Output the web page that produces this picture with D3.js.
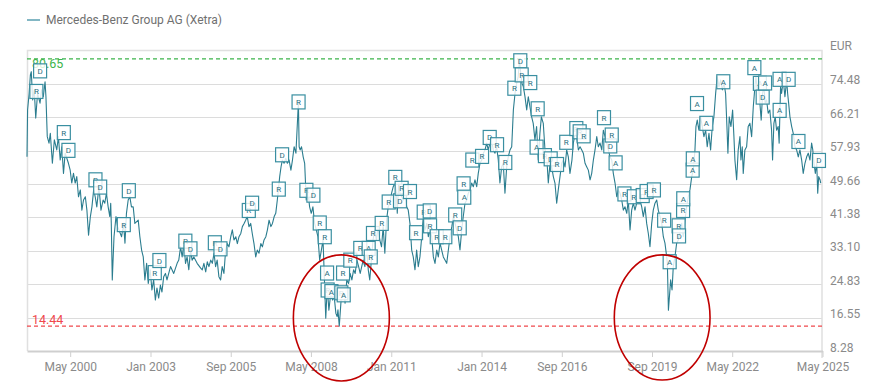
<!DOCTYPE html>
<html><head><meta charset="utf-8">
<script src="https://cdn.jsdelivr.net/npm/d3@7"></script>
<style>
body{margin:0;background:#fff;}
svg{display:block;font-family:Roboto,"Helvetica Neue",Arial,sans-serif;}
</style></head>
<body><svg id="chart" width="887" height="387"></svg>
<script>
const seriesName = "Mercedes-Benz Group AG (Xetra)";
const currency = "EUR";
const yTicks = [8.28, 16.55, 24.83, 33.10, 41.38, 49.66, 57.93, 66.21, 74.48];
const xTickDates = ["2000-05-01","2003-01-01","2005-09-01","2008-05-01","2011-01-01","2014-01-01","2016-09-01","2019-09-01","2022-05-01","2025-05-01"];
const refHigh = 80.65;
const refLow = 14.44;
const highlightRegions = [
  {from:"2007-10-01", to:"2010-12-09", low:0.85, high:32.1},
  {from:"2018-05-31", to:"2021-08-05", low:1.1, high:32.1}
];
const priceSeries = [
["1998-11-24",56.4],["1998-12-01",68.0],["1998-12-20",72.1],["1999-01-04",76.7],["1999-01-15",77.5],["1999-02-01",70.5],["1999-02-20",73.0],["1999-03-10",66.0],["1999-04-01",72.1],["1999-05-01",69.7],["1999-05-20",73.0],["1999-06-10",71.3],["1999-07-01",75.0],["1999-07-12",71.3],["1999-07-28",61.4],["1999-08-18",59.8],["1999-09-03",62.2],["1999-09-28",54.8],["1999-10-22",60.6],["1999-11-20",58.1],["1999-12-10",61.4],
["2000-01-01",55.6],["2000-01-20",58.9],["2000-02-10",52.3],["2000-03-01",57.3],["2000-04-10",54.8],["2000-05-01",53.1],["2000-05-20",49.9],["2000-06-10",52.3],["2000-07-01",49.9],["2000-07-20",51.5],["2000-08-10",46.5],["2000-09-01",48.2],["2000-09-20",43.2],["2000-10-10",45.7],["2000-11-01",46.5],["2000-11-20",43.2],["2000-12-10",37.0],
["2001-01-01",41.6],["2001-01-20",44.0],["2001-02-10",48.2],["2001-03-01",46.5],["2001-03-20",44.0],["2001-04-15",49.0],["2001-05-10",43.2],["2001-06-05",45.7],["2001-06-25",44.9],["2001-07-15",47.4],["2001-08-05",44.0],["2001-08-25",41.6],["2001-09-05",44.9],["2001-09-12",39.9],["2001-09-24",25.9],["2001-10-15",36.6],["2001-11-08",41.6],["2001-11-28",39.1],
["2002-01-15",36.6],["2002-02-08",39.9],["2002-02-25",35.0],["2002-03-15",42.4],["2002-04-05",45.7],["2002-04-25",46.5],["2002-05-15",44.0],["2002-06-05",44.0],["2002-06-25",39.9],["2002-08-05",40.7],["2002-08-25",36.6],["2002-09-15",33.3],["2002-10-05",31.6],["2002-10-25",25.9],["2002-11-15",30.0],["2002-12-05",25.0],["2002-12-28",28.4],
["2003-01-18",23.4],["2003-02-08",25.9],["2003-03-01",20.9],["2003-03-20",23.9],["2003-04-10",21.4],["2003-05-01",24.6],["2003-05-20",22.9],["2003-06-10",26.7],["2003-07-01",27.5],["2003-07-20",25.9],["2003-09-01",29.2],["2003-10-10",27.5],["2003-11-20",30.0],["2003-12-10",30.8],
["2004-01-01",34.1],["2004-01-20",31.6],["2004-02-10",34.9],["2004-03-01",30.0],["2004-03-20",31.6],["2004-04-10",28.4],["2004-05-01",33.3],["2004-05-20",30.8],["2004-06-10",31.6],["2004-07-20",30.0],["2004-09-01",28.8],["2004-09-20",28.4],["2004-10-10",30.0],["2004-11-01",27.9],["2004-11-20",30.4],["2004-12-10",29.2],
["2005-01-01",30.8],["2005-01-20",30.0],["2005-02-10",32.5],["2005-03-01",29.2],["2005-03-20",30.8],["2005-04-10",26.7],["2005-05-01",25.9],["2005-05-20",29.2],["2005-06-10",27.5],["2005-07-01",33.3],["2005-07-20",34.9],["2005-08-10",34.1],["2005-09-01",36.6],["2005-09-20",38.3],["2005-10-10",35.8],["2005-11-01",36.6],["2005-11-20",34.9],["2005-12-10",36.6],
["2006-01-01",37.4],["2006-01-20",39.1],["2006-02-10",39.9],["2006-03-01",40.7],["2006-03-20",41.6],["2006-04-10",39.1],["2006-05-01",39.9],["2006-05-20",37.4],["2006-06-10",34.9],["2006-07-01",31.6],["2006-07-20",33.3],["2006-08-10",32.5],["2006-09-01",34.9],["2006-09-20",34.1],["2006-10-10",35.8],["2006-11-01",36.6],["2006-11-20",38.3],["2006-12-10",40.7],
["2007-01-01",39.1],["2007-01-20",39.9],["2007-02-10",41.6],["2007-03-01",42.4],["2007-03-20",45.7],["2007-04-02",48.2],["2007-04-18",51.5],["2007-05-05",54.0],["2007-05-20",55.6],["2007-06-10",54.8],["2007-07-01",56.0],["2007-07-20",54.8],["2007-08-10",55.6],["2007-09-01",53.1],["2007-09-20",55.6],["2007-10-10",58.9],["2007-11-01",57.3],["2007-12-01",70.0],["2007-12-10",58.9],["2007-12-22",58.1],
["2008-01-08",58.9],["2008-01-28",56.4],["2008-02-15",54.8],["2008-03-05",45.7],["2008-03-25",48.2],["2008-04-15",44.0],["2008-05-05",42.4],["2008-05-25",44.0],["2008-06-15",39.9],["2008-07-05",38.3],["2008-07-25",36.6],["2008-08-15",30.8],["2008-09-05",33.3],["2008-09-25",35.8],["2008-10-12",25.9],["2008-10-28",16.4],["2008-11-15",24.2],["2008-12-05",18.4],["2008-12-28",22.6],
["2009-01-20",20.9],["2009-02-08",21.7],["2009-02-28",17.6],["2009-03-15",16.8],["2009-03-25",18.5],["2009-04-10",14.44],["2009-05-05",21.7],["2009-06-01",22.6],["2009-06-20",20.1],["2009-07-10",25.9],["2009-08-01",25.0],["2009-08-20",27.5],["2009-09-10",25.9],["2009-10-01",28.4],["2009-10-20",27.5],["2009-11-10",30.8],["2009-12-01",29.2],["2009-12-20",27.5],
["2010-01-25",30.8],["2010-02-15",29.2],["2010-03-08",34.1],["2010-03-28",28.4],["2010-04-15",25.9],["2010-05-05",30.8],["2010-05-25",35.8],["2010-06-15",38.3],["2010-07-05",35.8],["2010-07-25",39.1],["2010-08-15",35.8],["2010-09-05",34.1],["2010-09-25",39.1],["2010-10-15",32.5],["2010-11-05",40.7],["2010-11-25",44.0],["2010-12-15",44.9],
["2011-01-05",47.4],["2011-01-25",49.0],["2011-02-15",49.9],["2011-03-05",47.4],["2011-03-15",42.4],["2011-04-01",49.9],["2011-04-17",47.4],["2011-05-27",45.7],["2011-06-16",48.2],["2011-07-07",44.0],["2011-07-26",43.2],["2011-08-16",39.9],["2011-09-06",33.3],["2011-09-25",31.6],["2011-10-16",28.4],["2011-11-05",33.3],["2011-11-25",29.2],["2011-12-15",31.6],
["2012-01-06",36.6],["2012-01-25",41.6],["2012-02-14",38.3],["2012-03-07",39.9],["2012-03-26",36.6],["2012-04-16",38.3],["2012-05-06",36.6],["2012-05-26",31.6],["2012-06-15",30.0],["2012-07-06",33.3],["2012-07-25",31.6],["2012-08-15",35.0],["2012-09-04",33.3],["2012-09-24",31.6],["2012-10-14",30.8],["2012-11-04",30.0],["2012-11-24",33.3],["2012-12-14",36.6],
["2013-01-05",39.1],["2013-01-24",41.6],["2013-02-13",39.9],["2013-03-05",38.3],["2013-03-25",36.6],["2013-04-14",33.3],["2013-05-05",38.3],["2013-05-24",41.6],["2013-06-14",44.9],["2013-07-05",45.7],["2013-07-24",47.4],["2013-08-14",48.2],["2013-09-03",49.9],["2013-09-23",49.0],["2013-10-13",50.7],["2013-11-03",49.0],["2013-11-22",52.3],["2013-12-13",54.8],
["2014-01-03",55.6],["2014-01-23",57.3],["2014-02-12",58.1],["2014-03-04",59.8],["2014-03-23",58.1],["2014-04-13",59.8],["2014-05-04",60.6],["2014-05-23",58.1],["2014-06-13",57.3],["2014-07-03",58.9],["2014-07-23",55.6],["2014-08-12",49.9],["2014-09-02",53.9],["2014-09-21",54.8],["2014-10-12",47.4],["2014-11-02",53.9],["2014-11-21",56.4],["2014-12-12",58.1],
["2015-01-02",58.9],["2015-01-22",68.0],["2015-02-11",72.1],["2015-03-03",74.6],["2015-03-22",76.3],["2015-04-07",80.65],["2015-04-21",77.1],["2015-05-07",74.6],["2015-05-23",73.8],["2015-06-12",71.3],["2015-07-03",68.0],["2015-07-22",71.3],["2015-08-11",68.8],["2015-09-01",66.3],["2015-09-20",64.7],["2015-10-11",60.6],["2015-10-31",63.9],["2015-11-20",55.6],["2015-12-10",62.2],["2015-12-28",66.3],
["2016-01-20",64.7],["2016-02-10",58.1],["2016-03-02",56.4],["2016-03-21",49.9],["2016-04-11",54.8],["2016-05-01",53.9],["2016-05-21",51.5],["2016-06-10",49.9],["2016-07-01",44.9],["2016-07-20",48.2],["2016-08-10",51.5],["2016-08-31",54.8],["2016-09-19",55.6],["2016-10-10",53.9],["2016-10-30",58.1],["2016-11-19",56.4],["2016-12-09",52.3],
["2017-01-02",55.6],["2017-01-19",59.8],["2017-02-09",62.2],["2017-03-01",61.4],["2017-03-21",58.1],["2017-04-10",58.9],["2017-05-01",58.1],["2017-05-20",57.3],["2017-06-10",54.8],["2017-07-01",53.9],["2017-07-20",53.1],["2017-08-10",50.7],["2017-08-30",52.3],["2017-09-19",55.6],["2017-10-09",58.1],["2017-10-30",61.4],["2017-11-18",58.9],["2017-12-09",59.8],["2017-12-30",58.1],
["2018-01-18",63.0],["2018-02-08",61.4],["2018-02-28",59.8],["2018-03-20",58.1],["2018-04-09",56.4],["2018-04-30",55.6],["2018-05-19",52.3],["2018-06-09",49.9],["2018-06-30",46.5],["2018-07-19",48.2],["2018-08-09",47.4],["2018-08-29",45.7],["2018-09-18",43.2],["2018-10-08",44.0],["2018-10-29",42.4],["2018-11-17",45.7],["2018-12-08",38.3],["2018-12-28",43.2],
["2019-01-17",44.9],["2019-02-06",43.2],["2019-02-27",44.9],["2019-03-18",46.5],["2019-04-08",45.7],["2019-04-29",44.0],["2019-05-18",41.6],["2019-06-08",44.0],["2019-06-28",39.9],["2019-07-18",37.4],["2019-08-07",34.1],["2019-08-28",39.9],["2019-09-16",43.2],["2019-10-07",44.9],["2019-10-28",45.7],["2019-11-16",43.2],["2019-12-07",41.6],["2019-12-28",39.9],
["2020-01-16",36.6],["2020-02-05",35.0],["2020-02-26",31.6],["2020-03-05",30.0],["2020-03-18",18.4],["2020-04-14",25.9],["2020-05-01",23.4],["2020-05-16",29.2],["2020-06-05",31.6],["2020-06-26",35.0],["2020-07-16",35.8],["2020-08-05",37.4],["2020-08-26",39.9],["2020-09-14",36.6],["2020-10-05",40.7],["2020-10-25",44.0],["2020-11-14",46.5],["2020-12-04",48.2],["2020-12-26",51.5],
["2021-01-14",53.1],["2021-02-03",58.1],["2021-02-15",63.9],["2021-03-03",65.5],["2021-03-23",63.0],["2021-04-13",66.3],["2021-05-03",63.9],["2021-05-23",61.4],["2021-06-13",63.0],["2021-07-02",58.9],["2021-07-23",62.2],["2021-08-12",58.1],["2021-09-01",63.9],["2021-09-21",66.3],["2021-10-12",72.1],["2021-10-31",76.3],["2021-11-21",73.8],["2021-12-12",75.4],
["2022-01-02",73.0],["2022-01-22",74.6],["2022-02-10",72.1],["2022-02-26",63.9],["2022-03-10",57.3],["2022-03-26",66.3],["2022-04-16",63.9],["2022-05-06",68.0],["2022-05-22",61.4],["2022-06-03",55.6],["2022-06-24",50.7],["2022-07-13",58.1],["2022-08-03",61.4],["2022-08-15",55.6],["2022-08-31",58.9],["2022-09-12",52.3],["2022-10-02",58.1],["2022-10-23",58.9],["2022-11-11",63.9],["2022-12-02",64.7],["2022-12-23",61.4],
["2023-01-12",68.8],["2023-02-01",73.8],["2023-02-13",76.3],["2023-03-01",73.0],["2023-03-17",74.6],["2023-04-02",69.7],["2023-04-18",65.5],["2023-05-05",72.1],["2023-05-21",73.8],["2023-06-05",69.7],["2023-06-22",70.5],["2023-07-12",67.2],["2023-08-01",68.0],["2023-08-22",63.0],["2023-09-03",55.6],["2023-09-19",64.7],["2023-10-05",66.3],["2023-10-22",63.0],["2023-11-10",63.9],["2023-11-22",59.8],["2023-12-09",73.8],["2023-12-21",72.1],
["2024-01-11",75.4],["2024-01-31",71.3],["2024-02-21",75.4],["2024-03-04",72.1],["2024-03-16",69.7],["2024-04-01",66.3],["2024-04-22",63.9],["2024-05-11",62.2],["2024-06-01",58.9],["2024-06-21",58.1],["2024-07-11",56.4],["2024-07-31",58.1],["2024-08-21",55.6],["2024-09-09",52.3],["2024-09-30",54.8],["2024-10-21",56.4],["2024-11-09",57.3],["2024-11-30",55.6],["2024-12-20",59.8],
["2025-01-03",58.1],["2025-01-18",54.8],["2025-02-03",52.3],["2025-02-20",54.8],["2025-03-04",47.4],["2025-03-16",51.5],["2025-04-01",50.7],["2025-04-09",49.9]
];
const annotations = [
["1999-03-18","R",72.6],["1999-05-02","D",77.7],["2000-02-14","R",62.4],["2000-04-10","D",58.0],["2001-03-04","R",50.7],["2001-04-30","D",48.9],
["2002-02-11","R",39.6],["2002-04-13","D",48.0],["2003-02-22","R",27.7],["2003-04-19","D",30.7],["2004-02-28","R",35.5],["2004-04-30","D",33.6],
["2005-02-20","R",35.1],["2005-04-29","D",33.6],["2006-04-08","R",43.1],["2006-05-18","D",44.9],["2007-04-07","R",48.4],["2007-05-17","D",56.9],
["2007-12-03","R",70.0],["2008-03-07","R",48.1],["2008-05-31","D",46.9],["2008-08-16","R",40.0],["2008-10-16","R",36.6],["2008-11-13","A",27.6],
["2008-11-20","R",23.4],["2009-01-05","A",23.0],["2009-05-05","R",22.7],["2009-05-26","R",27.6],["2009-06-03","A",22.2],["2009-08-22","R",30.8],
["2009-12-21","R",33.7],["2010-04-02","A",33.7],["2010-04-27","R",31.6],["2010-05-24","R",37.4],["2010-09-07","R",39.9],["2010-12-01","R",45.2],
["2011-02-19","R",51.3],["2011-04-17","D",45.5],["2011-05-07","R",48.6],["2011-08-16","R",47.8],["2011-10-29","R",37.6],["2012-01-30","R",42.7],
["2012-04-12","D",43.0],["2012-04-16","R",39.3],["2012-07-06","R",36.6],["2012-10-18","R",36.6],["2013-02-15","R",42.0],["2013-04-11","D",38.8],
["2013-05-28","R",49.7],["2013-06-05","A",46.4],["2013-09-11","R",55.6],["2014-01-07","R",56.5],["2014-04-10","D",61.2],["2014-07-08","R",59.4],
["2014-10-16","R",55.0],["2015-02-03","R",73.4],["2015-04-16","D",80.2],["2015-05-03","R",76.7],["2015-08-15","R",74.8],["2015-10-31","A",58.8],
["2015-11-13","R",68.3],["2016-02-09","R",56.7],["2016-04-19","D",55.9],["2016-07-05","R",54.5],["2016-10-25","R",60.0],["2017-02-24","R",63.4],
["2017-04-06","R",62.6],["2017-05-24","R",61.6],["2018-01-26","R",66.1],["2018-04-12","D",59.1],["2018-04-30","R",61.8],["2018-06-16","A",54.9],
["2018-10-01","R",47.2],["2019-01-23","R",46.5],["2019-05-11","D",46.8],["2019-06-27","R",47.8],["2019-09-24","R",48.2],["2020-01-26","R",40.7],
["2020-04-02","A",30.4],["2020-07-20","R",39.3],["2020-07-25","D",36.8],["2020-09-12","R",43.1],["2020-09-14","A",46.0],["2021-01-06","A",53.1],
["2021-01-08","A",55.9],["2021-02-28","A",69.6],["2021-06-21","A",64.7],["2022-01-13","A",75.0],["2023-01-25","A",78.5],["2023-04-02","A",74.6],
["2023-05-06","D",71.2],["2023-06-04","A",74.7],["2023-11-27","A",75.6],["2023-11-28","A",67.9],["2024-03-16","D",75.6],["2024-07-13","A",60.2],
["2025-03-19","D",55.5]
];

const parse = d3.timeParse("%Y-%m-%d");
const svg = d3.select("#chart");
const plot = {left:27, right:822.5, top:50, bottom:351};
const x = d3.scaleTime().domain([parse("1998-11-24"), parse("2025-05-01")]).range([plot.left, plot.right]);
const y = d3.scaleLinear().domain([8.28, 82.87]).range([plot.bottom, plot.top]);

const teal = "#2b7d8f";
// legend
const lg = svg.append("g");
lg.append("line").attr("x1",27).attr("x2",40).attr("y1",20).attr("y2",20).attr("stroke","#5a9fb0").attr("stroke-width",1.5);
lg.append("text").attr("x",46).attr("y",24).attr("font-size",12).attr("fill","#707070").text(seriesName);

// grid
svg.append("g").selectAll("line").data(yTicks.slice(1)).join("line")
  .attr("x1",plot.left).attr("x2",plot.right-0.5).attr("y1",d=>Math.round(y(d))+0.5).attr("y2",d=>Math.round(y(d))+0.5)
  .attr("stroke","#dcdcdc").attr("stroke-width",1.2);
// frame
svg.append("path").attr("d",`M${plot.left+0.5},${plot.bottom}V${plot.top+0.5}H${plot.right-0.5}V${plot.bottom+7}`)
  .attr("fill","none").attr("stroke","#e0e0e0").attr("stroke-width",1.5);

// y axis labels
const yAxis = d3.axisRight(y).tickValues(yTicks).tickSize(0).tickPadding(0).tickFormat(d3.format(".2f"));
const yg = svg.append("g").attr("transform",`translate(830,0)`).call(yAxis);
yg.select(".domain").remove();
yg.selectAll("text").attr("dy","0").attr("x",0).attr("font-size",12).attr("fill","#8a8a8a").attr("font-family","Roboto,Arial,sans-serif").attr("text-anchor","start");
svg.append("text").attr("x",830).attr("y",50).attr("font-size",12).attr("fill","#8a8a8a").text(currency);

// x axis
const xAxis = d3.axisBottom(x).tickValues(xTickDates.map(parse)).tickFormat(d3.timeFormat("%b %Y")).tickSize(6).tickSizeOuter(0).tickPadding(5);
const xg = svg.append("g").attr("transform",`translate(0,${plot.bottom})`).call(xAxis);
xg.select(".domain").attr("stroke","#cfcfcf").attr("stroke-width",2.2);
xg.selectAll(".tick line").attr("stroke","#cfcfcf");
xg.selectAll("text").attr("font-size",12).attr("fill","#8a8a8a").attr("font-family","Roboto,Arial,sans-serif");

// reference lines
svg.append("line").attr("x1",plot.left).attr("x2",plot.right).attr("y1",y(refHigh)).attr("y2",y(refHigh))
  .attr("stroke","#3cb44b").attr("stroke-width",1.2).attr("stroke-dasharray","4,3");
svg.append("line").attr("x1",plot.left).attr("x2",plot.right).attr("y1",y(refLow)).attr("y2",y(refLow))
  .attr("stroke","#f0484c").attr("stroke-width",1.2).attr("stroke-dasharray","4,3");
svg.append("text").attr("x",32).attr("y",y(refHigh)+9.5).attr("font-size",12.5).attr("fill","#3cb44b").text(d3.format(".2f")(refHigh));
svg.append("text").attr("x",32).attr("y",y(refLow)-2).attr("font-size",12.5).attr("fill","#f0484c").text(d3.format(".2f")(refLow));

// price line
const line = d3.line().x(d=>x(parse(d[0]))).y(d=>y(d[1]));
svg.append("path").datum(priceSeries).attr("d",line).attr("fill","none").attr("stroke",teal).attr("stroke-width",1.1).attr("stroke-linejoin","round");

// annotation boxes
const ag = svg.append("g").selectAll("g").data(annotations).join("g")
  .attr("transform",d=>`translate(${x(parse(d[0]))},${y(d[2])})`);
ag.append("rect").attr("x",-6.5).attr("y",-7).attr("width",13).attr("height",14)
  .attr("fill","#ffffff").attr("fill-opacity",0.82).attr("stroke","#3a8fa1").attr("stroke-width",1.2);
ag.append("text").attr("text-anchor","middle").attr("y",3).attr("font-size",8).attr("fill","#2a6f80").text(d=>d[1]);

// highlight ellipses
svg.append("g").selectAll("ellipse").data(highlightRegions).join("ellipse")
  .attr("cx",d=>(x(parse(d.from))+x(parse(d.to)))/2)
  .attr("cy",d=>(y(d.low)+y(d.high))/2)
  .attr("rx",d=>(x(parse(d.to))-x(parse(d.from)))/2)
  .attr("ry",d=>Math.abs(y(d.low)-y(d.high))/2)
  .attr("fill","none").attr("stroke","#c00000").attr("stroke-width",1.6);
</script>
</body></html>
